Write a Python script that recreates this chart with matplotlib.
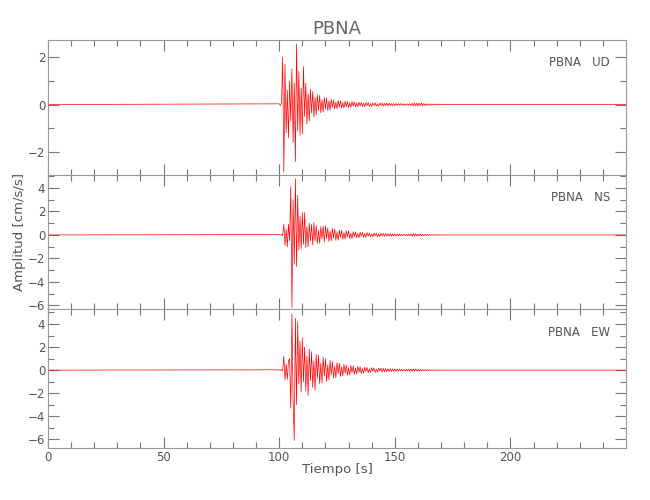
"""
Sismograma de aceleración de la estación PBNA (componentes UD, NS, EW).
Panel triple con eje de tiempo común.
"""
import numpy as np
import matplotlib.pyplot as plt
from matplotlib.ticker import MultipleLocator

# muestras cada 0.5 s a partir de t0 (antes y después la señal es ~0)
t0, dt = 100.0, 0.5
t_ini, t_fin = 0.0, 249.99

ud = [0.03, -0.04, 0.05, 2.0, -2.85, 1.7, -1.2, 0.6, -1.4, 1.0,
      -0.7, 1.5, -1.6, 0.9, -2.4, 2.55, -1.1, 1.4, -1.3, 0.7,
      -1.24, 1.6, -0.5, 0.9, -0.82, 0.45, -0.7, 0.65, -0.35, 0.55,
      -0.53, 0.3, -0.45, 0.42, -0.25, 0.38, -0.35, 0.2, -0.32, 0.3,
      -0.18, 0.28, -0.26, 0.15, -0.24, 0.22, -0.12, 0.2, -0.19, 0.1,
      -0.18, 0.17, -0.1, 0.16, -0.15, 0.08, -0.14, 0.14, -0.09, 0.13,
      -0.13, 0.07, -0.12, 0.12, -0.06, 0.11, -0.1, 0.06, -0.1, 0.1,
      -0.05, 0.09, -0.09, 0.05, -0.09, 0.08, -0.04, 0.08, -0.08, 0.04,
      -0.08, 0.07, -0.04, 0.07, -0.07, 0.03, -0.07, 0.06, -0.03, 0.06,
      -0.06, 0.05, -0.05, 0.06, -0.05, 0.05, -0.05, 0.04, -0.05, 0.04,
      -0.04, 0.04, -0.04, 0.04, -0.03, 0.04, -0.03, 0.03, -0.03, 0.03,
      -0.03, 0.03, -0.03, 0.03, -0.04, 0.05, -0.06, 0.07, -0.06, 0.06,
      -0.07, 0.06, -0.05, 0.06, -0.05, 0.04, -0.04, 0.03, -0.03, 0.03,
      -0.03, 0.02, -0.03, 0.02, -0.02, 0.02, -0.02, 0.02, -0.02, 0.02,
      0.0]

ns = [0.03, -0.04, 0.05, -0.06, 0.9, -0.9, 0.5, -1.0, 0.9, -0.5,
      4.1, -6.2, 3.0, -2.5, 4.8, -2.7, 3.4, -1.3, 1.6, -1.2,
      1.9, -0.8, 1.9, -1.1, 0.7, -1.0, 1.0, -0.5, 0.9, -0.85,
      1.06, -0.5, 0.8, -0.7, 0.4, -0.7, 0.7, -0.35, 0.75, -0.6,
      0.78, -0.3, 0.6, -0.55, 0.3, -0.5, 0.55, -0.25, 0.5, -0.45,
      0.25, -0.45, 0.42, -0.2, 0.4, -0.38, 0.2, -0.35, 0.36, -0.18,
      0.35, -0.32, 0.15, -0.3, 0.28, -0.14, 0.27, -0.25, 0.12, -0.24,
      0.23, -0.1, 0.22, -0.2, 0.1, -0.2, 0.2, -0.09, 0.18, -0.18,
      0.08, -0.17, 0.16, -0.08, 0.15, -0.15, 0.07, -0.14, 0.13, -0.06,
      0.12, -0.12, 0.12, -0.11, 0.11, -0.1, 0.1, -0.1, 0.09, -0.09,
      0.09, -0.08, 0.08, -0.08, 0.07, -0.07, 0.07, -0.06, 0.06, -0.06,
      0.06, -0.06, 0.07, -0.08, 0.1, -0.1, 0.12, -0.1, 0.11, -0.1,
      0.1, -0.09, 0.08, -0.07, 0.06, -0.06, 0.05, -0.05, 0.05, -0.04,
      0.04, -0.04, 0.04, -0.03, 0.03, -0.03, 0.03, -0.03, 0.03, -0.02,
      0.0]

ew = [0.03, -0.04, 0.05, -0.06, 1.2, -0.85, 0.5, -0.8, 0.8, 1.0,
      -3.3, 4.9, -2.5, -6.1, 4.5, -3.0, 4.2, -1.2, 2.5, -1.9,
      2.8, -1.0, 2.0, -1.8, 1.2, -2.2, 1.8, -0.9, 1.6, -1.5,
      0.8, -1.74, 1.4, -0.7, 1.3, -1.2, 0.6, -1.1, 1.1, -0.5,
      1.0, -1.0, 0.45, -0.85, 0.85, -0.4, 0.75, -0.7, 0.35, -0.65,
      0.65, -0.3, 0.6, -0.55, 0.28, -0.5, 0.5, -0.24, 0.46, -0.45,
      0.22, -0.42, 0.4, -0.2, 0.38, -0.36, 0.18, -0.34, 0.33, -0.16,
      0.3, -0.3, 0.14, -0.27, 0.26, -0.12, 0.24, -0.24, 0.11, -0.22,
      0.22, -0.1, 0.2, -0.2, 0.09, -0.18, 0.18, -0.08, 0.16, -0.16,
      0.15, -0.15, 0.14, -0.14, 0.13, -0.12, 0.12, -0.12, 0.11, -0.11,
      0.1, -0.1, 0.1, -0.09, 0.09, -0.08, 0.08, -0.08, 0.07, -0.07,
      0.07, -0.07, 0.08, -0.09, 0.1, -0.1, 0.11, -0.1, 0.1, -0.09,
      0.09, -0.08, 0.07, -0.07, 0.06, -0.06, 0.05, -0.05, 0.05, -0.04,
      0.04, -0.04, 0.04, -0.03, 0.03, -0.03, 0.03, -0.03, 0.03, -0.02,
      0.0]

estacion = "PBNA"
componentes = ["UD", "NS", "EW"]
senales = [ud, ns, ew]
ylims = [(-2.97, 2.72), (-6.3, 5.1), (-6.75, 5.3)]
ymajor = [2, 2, 2]
yminor = [1, 1, 1]

GRIS = "#777777"
TXT = "#555555"

fig = plt.figure(figsize=(6.5, 5.0), dpi=100)
# posiciones de los paneles en fracción de figura (x0, y0, ancho, alto)
L, W = 48 / 650, 578 / 650
cajas = [(L, 1 - 175 / 500, W, 135 / 500),
         (L, 1 - 309 / 500, W, 134 / 500),
         (L, 1 - 448 / 500, W, 139 / 500)]

for k, (comp, s) in enumerate(zip(componentes, senales)):
    ax = fig.add_axes(cajas[k])
    s = np.asarray(s)
    t = t0 + dt * np.arange(len(s))
    tt = np.concatenate([[t_ini], t, [t_fin]])
    ss = np.concatenate([[0.0], s, [0.0]])
    ax.plot(tt, ss, color="red", linewidth=0.5)
    ax.set_xlim(t_ini, t_fin)
    ax.set_ylim(*ylims[k])
    ax.xaxis.set_major_locator(MultipleLocator(50))
    ax.xaxis.set_minor_locator(MultipleLocator(10))
    ax.yaxis.set_major_locator(MultipleLocator(ymajor[k]))
    ax.yaxis.set_minor_locator(MultipleLocator(yminor[k]))
    ax.tick_params(which="both", direction="in", top=True, right=True,
                   color=GRIS, labelcolor=TXT, labelsize=8.5, width=0.8, pad=2)
    ax.tick_params(which="major", length=8)
    ax.tick_params(which="minor", length=4)
    for sp in ax.spines.values():
        sp.set_color("#999999")
        sp.set_linewidth(0.8)
    if k < 2:
        ax.set_xticklabels([])
    ax.text(0.972, 0.83, f"{estacion}   {comp}", transform=ax.transAxes,
            ha="right", va="center", fontsize=8.5, color=TXT)

fig.text(337 / 650, 1 - 29 / 500, estacion, ha="center", va="center",
         fontsize=13, color="#666666")
fig.text(337 / 650, 1 - 470 / 500, "Tiempo [s]", ha="center", va="center",
         fontsize=9.5, color=TXT)
fig.text(20 / 650, 1 - 232 / 500, "Amplitud [cm/s/s]", ha="center",
         va="center", rotation=90, fontsize=9.5, color=TXT)

fig.savefig("out.png", dpi=100)
plt.close(fig)
